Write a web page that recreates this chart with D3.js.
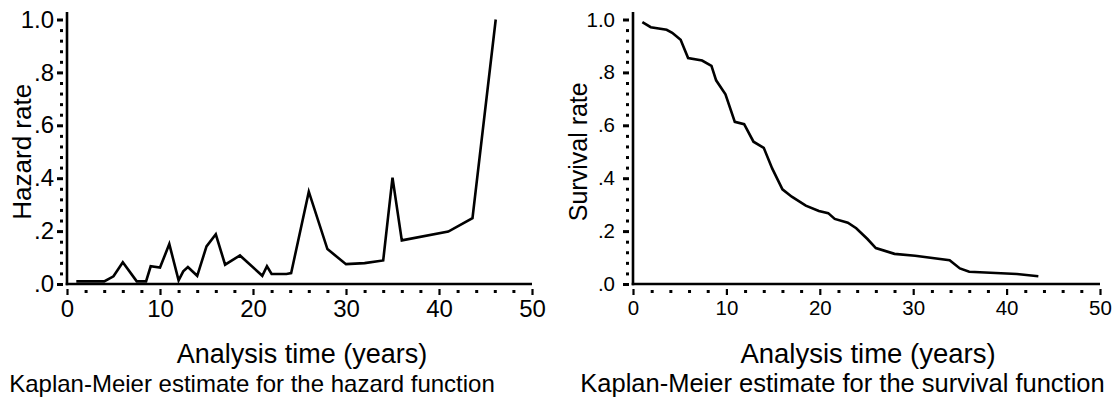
<!DOCTYPE html>
<html><head><meta charset="utf-8">
<script src="https://cdn.jsdelivr.net/npm/d3@7"></script>
<style>
html,body{margin:0;padding:0;background:#fff;}
text{font-family:"Liberation Sans",Arial,Helvetica,sans-serif;fill:#000;}
</style></head>
<body>
<svg id="chart" width="1119" height="399"></svg>
<script>
// ---- data ----
const hazardTime = [1, 4, 5, 6, 7.5, 8.5, 9, 10, 11, 12, 12.5, 13, 14, 15, 16, 17, 18.6, 21, 21.5, 22, 23.6, 24.1, 26, 28, 30, 32, 34, 35, 36, 41, 43.6, 46.1];
const hazardRate = [0.01, 0.01, 0.029, 0.082, 0.01, 0.01, 0.067, 0.062, 0.151, 0.014, 0.048, 0.064, 0.031, 0.142, 0.188, 0.073, 0.108, 0.031, 0.067, 0.038, 0.038, 0.041, 0.349, 0.132, 0.075, 0.079, 0.089, 0.402, 0.165, 0.198, 0.249, 1.0];

const survTime = [1, 1.9, 3.6, 4.2, 5.1, 5.9, 7.4, 8.4, 8.9, 9.9, 10.9, 11.9, 12.9, 14, 14.9, 16, 17, 18.5, 19.9, 20.9, 21.6, 23, 23.9, 25.1, 26, 28, 30.2, 33.9, 35, 36, 41.1, 43.4];
const survRate = [0.99, 0.971, 0.961, 0.95, 0.923, 0.854, 0.845, 0.825, 0.77, 0.717, 0.613, 0.604, 0.538, 0.515, 0.437, 0.358, 0.33, 0.296, 0.276, 0.268, 0.246, 0.232, 0.211, 0.17, 0.136, 0.114, 0.107, 0.09, 0.059, 0.046, 0.038, 0.029];

const xMajorTicks = [0, 10, 20, 30, 40, 50];
const xMinorTicks = [2, 4, 6, 8, 12, 14, 16, 18, 22, 24, 26, 28, 32, 34, 36, 38, 42, 44, 46, 48];
const yMajorTicks = [0, 0.2, 0.4, 0.6, 0.8, 1.0];
const yTickLabels = [".0", ".2", ".4", ".6", ".8", "1.0"];
const yMinorTicks = [0.04, 0.08, 0.12, 0.16, 0.24, 0.28, 0.32, 0.36, 0.44, 0.48, 0.52, 0.56, 0.64, 0.68, 0.72, 0.76, 0.84, 0.88, 0.92, 0.96];

const xTitle = "Analysis time (years)";
const panels = [
  {time: hazardTime, value: hazardRate, ytitle: "Hazard rate", caption: "Kaplan-Meier estimate for the hazard function",
   x0: 67, x1: 532, tickFont: 24, yTitleX: 31, yTitleFont: 26, yPad: 3, capX: 252, capFont: 24, titleFont: 27, titleX: 302},
  {time: survTime, value: survRate, ytitle: "Survival rate", caption: "Kaplan-Meier estimate for the survival function",
   x0: 633, x1: 1100, tickFont: 20.5, yTitleX: 587, yTitleFont: 25, yPad: 8, capX: 842.5, capFont: 25.5, titleFont: 27.5, titleX: 868}
];

const svg = d3.select("#chart");
const yTop = 19.5, yBot = 284;

panels.forEach(p => {
  const x = d3.scaleLinear().domain([0, 50]).range([p.x0, p.x1]);
  const y = d3.scaleLinear().domain([0, 1]).range([yBot, yTop]);
  const g = svg.append("g");

  // axis lines
  g.append("line").attr("x1", p.x0).attr("x2", p.x0).attr("y1", 12).attr("y2", yBot + 1.2)
    .attr("stroke", "#000").attr("stroke-width", 2.6);
  g.append("line").attr("x1", p.x0 - 1.3).attr("x2", p.x1).attr("y1", yBot).attr("y2", yBot)
    .attr("stroke", "#000").attr("stroke-width", 2.6);

  // y major ticks
  const yAx = d3.axisLeft(y).tickValues(yMajorTicks).tickSize(6).tickPadding(p.yPad)
    .tickFormat((d, i) => yTickLabels[i]);
  const yg = g.append("g").attr("transform", `translate(${p.x0 - 4},0)`).call(yAx);
  yg.select(".domain").remove();
  yg.selectAll(".tick line").attr("stroke", "#000").attr("stroke-width", 3);
  yg.selectAll(".tick text").attr("font-size", p.tickFont).attr("font-family", null);
  // y minor ticks
  const ym = d3.axisLeft(y).tickValues(yMinorTicks).tickSize(3).tickFormat("");
  const ymg = g.append("g").attr("transform", `translate(${p.x0 - 4},0)`).call(ym);
  ymg.select(".domain").remove();
  ymg.selectAll(".tick line").attr("stroke", "#000").attr("stroke-width", 3);

  // x major ticks
  const xAx = d3.axisBottom(x).tickValues(xMajorTicks).tickSize(6).tickPadding(5);
  const xg = g.append("g").attr("transform", `translate(0,${yBot + 5})`).call(xAx);
  xg.select(".domain").remove();
  xg.selectAll(".tick line").attr("stroke", "#000").attr("stroke-width", 2.2);
  xg.selectAll(".tick text").attr("font-size", p.tickFont).attr("font-family", null);
  const xm = d3.axisBottom(x).tickValues(xMinorTicks).tickSize(3).tickFormat("");
  const xmg = g.append("g").attr("transform", `translate(0,${yBot + 6})`).call(xm);
  xmg.select(".domain").remove();
  xmg.selectAll(".tick line").attr("stroke", "#000").attr("stroke-width", 3);

  // line
  const data = p.time.map((t, i) => [t, p.value[i]]);
  g.append("path").datum(data)
    .attr("fill", "none").attr("stroke", "#000").attr("stroke-width", 2.6)
    .attr("stroke-linejoin", "miter")
    .attr("d", d3.line().x(d => x(d[0])).y(d => y(d[1])));

  // titles
  g.append("text").attr("x", p.titleX).attr("y", 363).attr("text-anchor", "middle")
    .attr("font-size", p.titleFont).text(xTitle);
  g.append("text").attr("x", p.capX).attr("y", 392).attr("text-anchor", "middle")
    .attr("font-size", p.capFont).text(p.caption);
  g.append("text").attr("transform", `translate(${p.yTitleX},${(yTop + yBot) / 2}) rotate(-90)`)
    .attr("text-anchor", "middle").attr("font-size", p.yTitleFont).text(p.ytitle);
});
</script>
</body></html>
